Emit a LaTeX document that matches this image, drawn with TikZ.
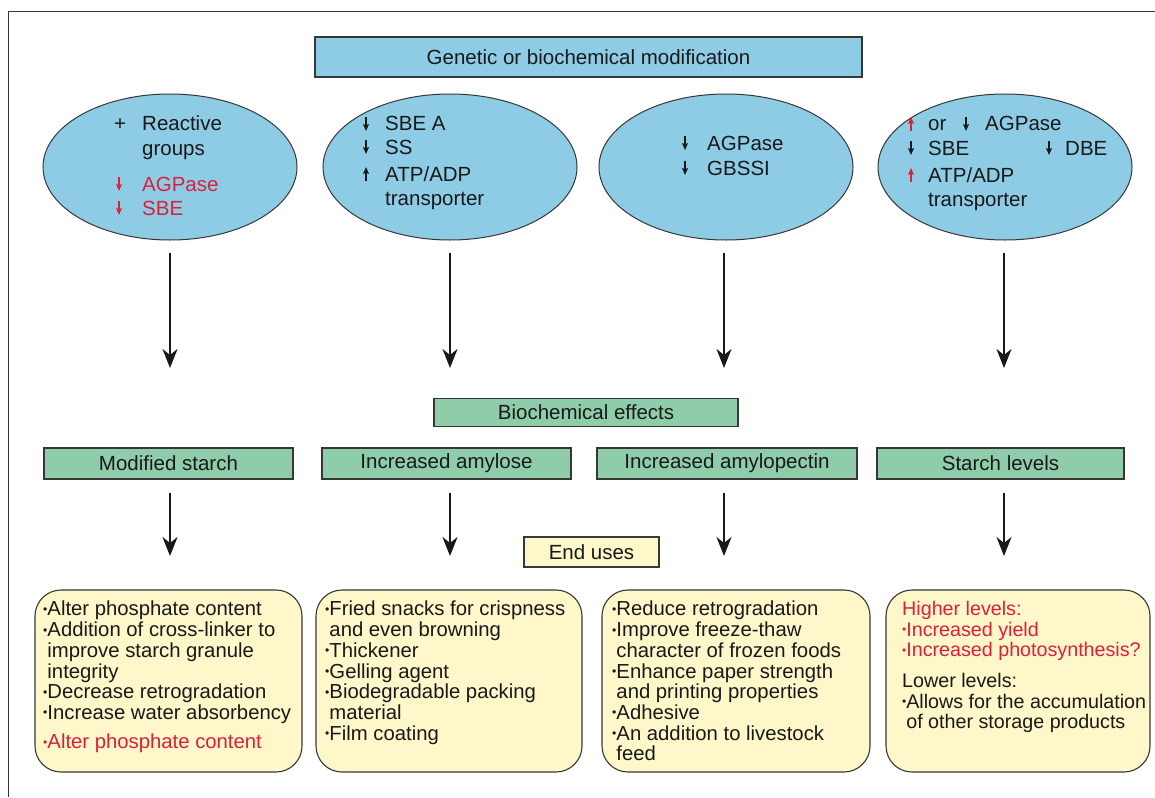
\documentclass[tikz,border=0pt]{standalone}
\usepackage{fontspec}
\setmainfont{Liberation Sans}
\usetikzlibrary{arrows.meta,shapes.geometric}
\definecolor{bluefill}{RGB}{142,204,230}
\definecolor{greenfill}{RGB}{143,204,170}
\definecolor{yellowfill}{RGB}{253,247,202}
\definecolor{edgegrey}{RGB}{55,55,55}
\definecolor{txt}{RGB}{25,25,25}
\definecolor{redtxt}{RGB}{220,32,60}
\newcommand\bul{\raisebox{0.12em}{\scalebox{0.6}{•}}}
\tikzset{
  bluebox/.style={draw=edgegrey, line width=1.1pt, fill=bluefill, inner sep=0pt, text=txt, font=\fontsize{20.5}{22}\selectfont},
  greenbox/.style={draw=edgegrey, line width=1.1pt, fill=greenfill, inner sep=0pt, minimum height=31pt, text=txt, font=\fontsize{20.5}{22}\selectfont},
  endbox/.style={draw=edgegrey, line width=1.1pt, fill=yellowfill, inner sep=0pt, text=txt, font=\fontsize{20.5}{22}\selectfont},
  ell/.style={draw=edgegrey, line width=1pt, fill=bluefill, ellipse, inner sep=0pt, minimum width=254pt, minimum height=146pt},
  usebox/.style={draw=edgegrey, line width=1.1pt, fill=yellowfill, rounded corners=26pt, inner sep=0pt, minimum height=182pt, minimum width=267pt},
  etext/.style={anchor=base west, inner sep=0pt, text=txt, font=\fontsize{20.5}{24}\selectfont},
  btext/.style={anchor=north west, inner sep=0pt, text=txt, align=left, font=\fontsize{20.3}{20.7}\selectfont},
  btextb/.style={btext, font=\fontsize{19.7}{20.7}\selectfont},
  bigarrow/.style={line width=2.3pt, draw=txt, -{Stealth[length=19pt, width=15pt, inset=6pt]}},
  smallarr/.style={line width=1.4pt, -{Stealth[length=7pt, width=6pt, inset=1.5pt]}},
}
\newcommand\mydn[3]{\draw[smallarr, draw=#3, fill=#3] (#1,#2-7) -- (#1,#2+7);}
\newcommand\myup[3]{\draw[smallarr, draw=#3, fill=#3] (#1,#2+7) -- (#1,#2-7);}
\begin{document}
\begin{tikzpicture}[x=1pt, y=-1pt]
\useasboundingbox (0,0) rectangle (1155,797);
\fill[white] (0,0) rectangle (1155,797);
% frame
\draw[line width=1.4pt, draw=edgegrey] (8.5,797) -- (8.5,11.5) -- (1155,11.5);

% top
\node[bluebox, minimum width=547pt, minimum height=40pt] (gen) at (588.5,57) {Genetic or biochemical modification};

% ellipses
\node[ell] (e1) at (170,167) {};
\node[ell] (e2) at (450,167) {};
\node[ell] (e3) at (726,167) {};
\node[ell] (e4) at (1005,167) {};

% ellipse 1 text
\node[etext] (t1a) at (114,131) {+};
\node[etext] (t1b) at (142,131) {Reactive};
\node[etext] (t1c) at (142,155) {groups};
\node[etext, text=redtxt] (t1d) at (142,191) {AGPase};
\node[etext, text=redtxt] (t1e) at (142,215) {SBE};
\mydn{119}{184}{redtxt}
\mydn{119}{208}{redtxt}

% ellipse 2 text
\node[etext] (t2a) at (385,131) {SBE A};
\node[etext] (t2b) at (385,154) {SS};
\node[etext] (t2c) at (385,181) {ATP/ADP};
\node[etext] (t2d) at (385,205) {transporter};
\mydn{366}{124}{txt}
\mydn{366}{147}{txt}
\myup{366}{174}{txt}

% ellipse 3 text
\node[etext] (t3a) at (707,150) {AGPase};
\node[etext] (t3b) at (707,175) {GBSSI};
\mydn{685}{143}{txt}
\mydn{685}{168}{txt}

% ellipse 4 text
\node[etext] (t4a) at (928,131) {or};
\node[etext] (t4b) at (985,131) {AGPase};
\node[etext] (t4c) at (928,155) {SBE};
\node[etext] (t4d) at (1065,155) {DBE};
\node[etext] (t4e) at (928,182) {ATP/ADP};
\node[etext] (t4f) at (928,206) {transporter};
\myup{911}{124}{redtxt}
\mydn{966}{124}{txt}
\mydn{911}{148}{txt}
\mydn{1049}{148}{txt}
\myup{911}{175}{redtxt}

% arrows from ellipses
\coordinate (a1) at (170,368);
\coordinate (a2) at (450,368);
\coordinate (a3) at (724,368);
\coordinate (a4) at (1004,368);
\draw[bigarrow] (a1 |- 0,253) -- (a1);
\draw[bigarrow] (a2 |- 0,253) -- (a2);
\draw[bigarrow] (a3 |- 0,253) -- (a3);
\draw[bigarrow] (a4 |- 0,253) -- (a4);

% biochemical effects
\node[greenbox, minimum width=304pt, minimum height=28pt] (bio) at (586,412.5) {Biochemical effects};
\node[greenbox, minimum width=249pt] (g1) at (168.5,463.5) {Modified starch};
\node[greenbox, minimum width=249pt] (g2) at (446.5,463.5) {Increased amylose};
\node[greenbox, minimum width=260pt] (g3) at (727,463.5) {Increased amylopectin};
\node[greenbox, minimum width=247pt] (g4) at (1000.5,463.5) {Starch levels};

% arrows from green boxes
\coordinate (b1) at (170,556);
\coordinate (b2) at (450,556);
\coordinate (b3) at (724,556);
\coordinate (b4) at (1004,556);
\draw[bigarrow] (b1 |- 0,493) -- (b1);
\draw[bigarrow] (b2 |- 0,493) -- (b2);
\draw[bigarrow] (b3 |- 0,493) -- (b3);
\draw[bigarrow] (b4 |- 0,493) -- (b4);

% end uses
\node[endbox, minimum width=135pt, minimum height=30pt] (eu) at (591.5,552) {End uses};

% bottom boxes
\node[usebox] (u1) at (168.5,681) {};
\node[usebox, minimum width=266pt] (u2) at (449,681) {};
\node[usebox, minimum width=268pt] (u3) at (736,681) {};
\node[usebox, minimum width=264pt] (u4) at (1018,681) {};

\node[btext] (x1) at (43,601) {\bul Alter phosphate content\\\bul Addition of cross-linker to\\\phantom{\bul}improve starch granule\\\phantom{\bul}integrity\\\bul Decrease retrogradation\\\bul Increase water absorbency};
\node[btext, text=redtxt] (x1r) at (43,734) {\bul Alter phosphate content};
\node[btext] (x2) at (325,601) {\bul Fried snacks for crispness\\\phantom{\bul}and even browning\\\bul Thickener\\\bul Gelling agent\\\bul Biodegradable packing\\\phantom{\bul}material\\\bul Film coating};
\node[btext] (x3) at (612,601) {\bul Reduce retrogradation\\\bul Improve freeze-thaw\\\phantom{\bul}character of frozen foods\\\bul Enhance paper strength\\\phantom{\bul}and printing properties\\\bul Adhesive\\\bul An addition to livestock\\\phantom{\bul}feed};
\node[btextb, text=redtxt] (x4) at (902,601) {Higher levels:\\\bul Increased yield\\\bul Increased photosynthesis?};
\node[btextb] (x4b) at (902,673) {Lower levels:\\\bul Allows for the accumulation\\\phantom{\bul}of other storage products};
\end{tikzpicture}
\end{document}
